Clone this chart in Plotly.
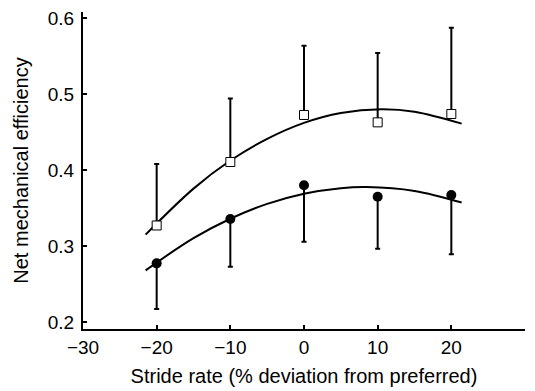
import plotly.graph_objects as go

# Data
stride_pct = [-20, -10, 0, 10, 20]
eff_open = [0.327, 0.4105, 0.4724, 0.4627, 0.4737]
eff_open_upper = [0.408, 0.494, 0.5636, 0.554, 0.5873]
eff_filled = [0.2772, 0.3355, 0.380, 0.3649, 0.367]
eff_filled_lower = [0.217, 0.2728, 0.3057, 0.2965, 0.289]

# Fitted curves
fit_x = [-21.5, -15, -10, -5, 0, 5, 10.5, 15, 21.4]
fit_open = [0.315, 0.3755, 0.4125, 0.441, 0.462, 0.475, 0.480, 0.4767, 0.461]
fit_x2 = [-21.5, -15, -10, -5, 0, 5, 8.5, 15, 21.4]
fit_filled = [0.268, 0.3103, 0.3359, 0.3554, 0.3688, 0.3761, 0.3776, 0.3725, 0.3573]

x_ticks = [-30, -20, -10, 0, 10, 20, 30]
x_ticktext = ["\u221230", "\u221220", "\u221210", "0", "10", "20", "30"]
y_ticks = [0.2, 0.3, 0.4, 0.5, 0.6]

FONT = "Liberation Sans, Arial, Helvetica, sans-serif"

fig = go.Figure()

fig.add_trace(go.Scatter(x=fit_x, y=fit_open, mode="lines", line=dict(color="black", width=2, shape="spline"),
                         hoverinfo="skip"))
fig.add_trace(go.Scatter(x=fit_x2, y=fit_filled, mode="lines", line=dict(color="black", width=2, shape="spline"),
                         hoverinfo="skip"))

fig.add_trace(go.Scatter(
    x=stride_pct, y=eff_open, mode="markers",
    marker=dict(symbol="square", size=9, color="white", line=dict(color="black", width=1)),
    error_y=dict(type="data", symmetric=False,
                 array=[u - v for u, v in zip(eff_open_upper, eff_open)],
                 arrayminus=[0] * len(eff_open),
                 color="black", thickness=2, width=2.5),
))
fig.add_trace(go.Scatter(
    x=stride_pct, y=eff_filled, mode="markers",
    marker=dict(symbol="circle", size=10, color="black"),
    error_y=dict(type="data", symmetric=False,
                 array=[0] * len(eff_filled),
                 arrayminus=[v - l for v, l in zip(eff_filled, eff_filled_lower)],
                 color="black", thickness=2, width=2.5),
))

fig.update_layout(
    width=535, height=391,
    margin=dict(l=83, r=10, t=12, b=62, autoexpand=False),
    paper_bgcolor="white", plot_bgcolor="white",
    showlegend=False,
    font=dict(family=FONT, color="black", size=19),
    xaxis=dict(
        range=[-30, 30], tickvals=x_ticks, ticktext=x_ticktext,
        showline=True, linecolor="black", linewidth=2, mirror=False,
        ticks="inside", ticklen=4, tickwidth=1.5, tickcolor="black",
        showgrid=False, zeroline=False, automargin=False,
        tickfont=dict(size=19), ticklabelstandoff=0,
        title=dict(text="Stride rate (% deviation from preferred)", font=dict(size=20), standoff=12),
    ),
    yaxis=dict(
        range=[0.1908, 0.6079], tickvals=y_ticks, ticktext=["0.2", "0.3", "0.4", "0.5", "0.6"],
        showline=True, linecolor="black", linewidth=2, mirror=False,
        ticks="inside", ticklen=4, tickwidth=1.5, tickcolor="black",
        showgrid=False, zeroline=False, automargin=False,
        tickfont=dict(size=19), ticklabelstandoff=3,
        title=dict(text="Net mechanical efficiency", font=dict(size=20), standoff=14),
    ),
)

fig.write_html("out.html", config={"displayModeBar": False},
               post_script="document.body.style.margin='0';")
